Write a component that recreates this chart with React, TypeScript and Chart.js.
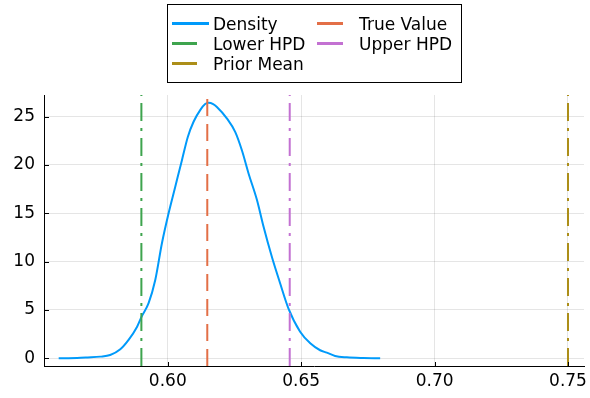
import React, { useEffect, useRef } from "react";
import { Chart, registerables } from "chart.js";

Chart.register(...registerables);

// ---- data ----
const densityX = [
  0.5591, 0.566, 0.57, 0.5747, 0.5784, 0.5822, 0.5853, 0.5885, 0.5903, 0.5928,
  0.5953, 0.5978, 0.6003, 0.6028, 0.6053, 0.6075, 0.6097, 0.6122, 0.614, 0.6153,
  0.617, 0.6184, 0.6222, 0.6253, 0.6278, 0.6303, 0.6334, 0.6359, 0.639, 0.6421,
  0.6452, 0.6496, 0.6534, 0.6571, 0.6596, 0.6627, 0.6671, 0.6733, 0.6796,
];
const densityY = [
  0, 0.02, 0.08, 0.17, 0.34, 0.93, 1.9, 3.27, 4.37, 5.7,
  8.1, 11.9, 15.0, 17.75, 20.5, 22.9, 24.5, 25.7, 26.3, 26.44,
  26.3, 26.0, 24.8, 23.4, 21.5, 19.1, 16.4, 13.6, 10.5, 7.76,
  5.17, 2.75, 1.55, 0.83, 0.58, 0.24, 0.1, 0.03, 0,
];

const seriesLabels = ["Density", "True Value", "Lower HPD", "Upper HPD", "Prior Mean"];
const seriesColors = ["#009AFA", "#E36F47", "#3EA44E", "#C371D2", "#AC8E18"];
// vertical reference lines (True Value, Lower HPD, Upper HPD, Prior Mean)
const vlineValues = [0.6148, 0.5901, 0.6457, 0.75];
const vlineDashes = [
  [17, 8],
  [18, 7, 3, 7],
  [18, 7, 3, 7],
  [18, 7, 3, 7],
];

const xTicks = [0.6, 0.65, 0.7, 0.75];
const yTicks = [0, 5, 10, 15, 20, 25];
const xRange = [0.5536, 0.756];
const yRange = [-0.8, 27.24];

const FONT = "DejaVu Sans";

const legendPlugin = {
  id: "juliaLegend",
  afterDraw(chart: any) {
    const ctx = chart.ctx;
    ctx.save();
    ctx.fillStyle = "#fff";
    ctx.strokeStyle = "#000";
    ctx.lineWidth = 1;
    ctx.fillRect(167.5, 4.5, 294, 78);
    ctx.strokeRect(167.5, 4.5, 294, 78);
    const cols = [
      { lineX0: 172, lineX1: 197, textX: 213 },
      { lineX0: 317, lineX1: 343, textX: 359 },
    ];
    const rowY = [23.5, 43.5, 63.5];
    ctx.font = `17px "${FONT}"`;
    ctx.textBaseline = "alphabetic";
    ctx.textAlign = "left";
    seriesLabels.forEach((label, i) => {
      const col = cols[i % 2];
      const y = rowY[Math.floor(i / 2)];
      ctx.strokeStyle = seriesColors[i];
      ctx.lineWidth = 3;
      ctx.setLineDash([]);
      ctx.beginPath();
      ctx.moveTo(col.lineX0, y);
      ctx.lineTo(i === 0 ? 209 : col.lineX1, y);
      ctx.stroke();
      ctx.fillStyle = "#000";
      ctx.fillText(label, col.textX, y + 6);
    });
    ctx.restore();
  },
};

const innerTicksPlugin = {
  id: "innerTicks",
  afterDraw(chart: any) {
    const ctx = chart.ctx;
    const { left, bottom } = chart.chartArea;
    const xs = chart.scales.x;
    const ys = chart.scales.y;
    ctx.save();
    ctx.strokeStyle = "#000";
    ctx.lineWidth = 1;
    ctx.beginPath();
    xTicks.forEach((v) => {
      const px = Math.round(xs.getPixelForValue(v)) + 0.5;
      ctx.moveTo(px, bottom);
      ctx.lineTo(px, bottom - 4);
    });
    yTicks.forEach((v) => {
      const py = Math.round(ys.getPixelForValue(v)) + 0.5;
      ctx.moveTo(left, py);
      ctx.lineTo(left + 5, py);
    });
    ctx.stroke();
    ctx.restore();
  },
};

export default function App() {
  const ref = useRef<HTMLCanvasElement | null>(null);

  useEffect(() => {
    document.body.style.margin = "0";
    const canvas = ref.current;
    if (!canvas) return;

    const densityData = densityX.map((x, i) => ({ x, y: densityY[i] }));
    const vlineDatasets = vlineValues.map((v, i) => ({
      label: seriesLabels[i + 1],
      data: [
        { x: v, y: yRange[0] },
        { x: v, y: yRange[1] },
      ],
      borderColor: seriesColors[i + 1],
      backgroundColor: seriesColors[i + 1],
      borderWidth: 2,
      borderDash: vlineDashes[i],
      pointRadius: 0,
      fill: false,
      order: 1,
    }));

    const chart = new Chart(canvas, {
      type: "line",
      data: {
        datasets: [
          {
            label: seriesLabels[0],
            data: densityData,
            borderColor: seriesColors[0],
            backgroundColor: seriesColors[0],
            borderWidth: 2,
            pointRadius: 0,
            fill: false,
            cubicInterpolationMode: "monotone",
            order: 5,
          },
          ...vlineDatasets,
        ],
      },
      options: {
        responsive: false,
        animation: false,
        devicePixelRatio: 1,
        layout: { padding: { left: 0, top: 95, right: 6, bottom: 0 } },
        plugins: {
          legend: { display: false },
          tooltip: { enabled: false },
        },
        scales: {
          x: {
            type: "linear",
            min: xRange[0],
            max: xRange[1],
            afterBuildTicks: (s: any) => {
              s.ticks = xTicks.map((v) => ({ value: v }));
            },
            afterFit: (s: any) => {
              s.height = 32;
              s.paddingLeft = 0;
              s.paddingRight = 0;
            },
            ticks: {
              callback: (v: any) => Number(v).toFixed(2),
              color: "#000",
              font: { family: FONT, size: 17 },
              padding: 5,
              maxRotation: 0,
              autoSkip: false,
            },
            grid: { color: "rgba(0,0,0,0.1)", drawTicks: false, lineWidth: 1 },
            border: { color: "#000", width: 1 },
          },
          y: {
            type: "linear",
            min: yRange[0],
            max: yRange[1],
            afterBuildTicks: (s: any) => {
              s.ticks = yTicks.map((v) => ({ value: v }));
            },
            afterFit: (s: any) => {
              s.width = 44;
              s.paddingTop = 0;
              s.paddingBottom = 0;
            },
            ticks: {
              callback: (v: any) => String(v),
              color: "#000",
              font: { family: FONT, size: 17 },
              padding: 9,
              autoSkip: false,
            },
            grid: { color: "rgba(0,0,0,0.1)", drawTicks: false, lineWidth: 1 },
            border: { color: "#000", width: 1 },
          },
        },
      } as any,
      plugins: [innerTicksPlugin, legendPlugin],
    });

    return () => chart.destroy();
  }, []);

  return (
    <div style={{ position: "relative", width: 590, height: 398, background: "#fff" }}>
      <canvas ref={ref} width={590} height={398} style={{ display: "block" }} />
    </div>
  );
}
